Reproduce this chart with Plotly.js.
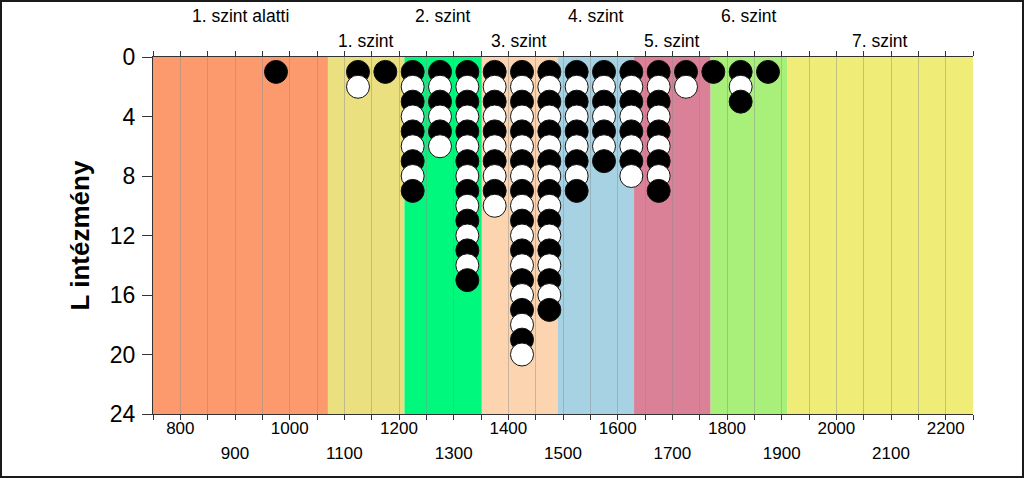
<!DOCTYPE html>
<html>
<head>
<meta charset="utf-8">
<script src="https://cdn.plot.ly/plotly-3.0.1.min.js"></script>
<style>
  html, body { margin: 0; padding: 0; background: #fff; }
  #frame { position: absolute; left: 0; top: 0; width: 1024px; height: 478px; box-sizing: border-box; border: 2px solid #1a1a1a; background: #fff; }
  #chart { width: 1020px; height: 474px; }
</style>
</head>
<body>
<div id="frame"><div id="chart"></div></div>
<script>
// ---- data ----
const columnX = [975, 1125, 1175, 1225, 1275, 1325, 1375, 1425, 1475, 1525, 1575, 1625, 1675, 1725, 1775, 1825, 1875];
const columnCount = [1, 2, 1, 9, 6, 15, 10, 20, 17, 9, 7, 8, 9, 2, 1, 3, 1];

const bandNames = ['1. szint alatti', '1. szint', '2. szint', '3. szint', '4. szint', '5. szint', '6. szint', '7. szint'];
const bandEdges = [750, 1070, 1210, 1350, 1490, 1630, 1770, 1910, 2250];

const xTickRow1 = [800, 1000, 1200, 1400, 1600, 1800, 2000, 2200];
const xTickRow2 = [900, 1100, 1300, 1500, 1700, 1900, 2100];
const yTicks = [0, 4, 8, 12, 16, 20, 24];
const yTitle = 'L intézmény';

// ---- styles ----
const bandColors = ['#FC9A6E', '#EBE07F', '#00F97C', '#FCD5B0', '#A6D2E3', '#DA8097', '#A8F07A', '#EFEC78'];
const dotColors = ['#000000', '#ffffff'];
const FONT = 'Liberation Sans, Arial, sans-serif';

// expand column counts into stacked dots (lower dots drawn over upper ones)
const px = [], py = [], pc = [];
columnX.forEach((x, i) => {
  for (let k = 1; k <= columnCount[i]; k++) {
    px.push(x); py.push(k); pc.push(dotColors[(k - 1) % 2]);
  }
});

const traces = [
  {
    type: 'scatter', mode: 'markers', x: px, y: py,
    marker: { size: 23, color: pc, line: { color: '#111', width: 1 } },
    hoverinfo: 'x+y', showlegend: false, cliponaxis: false
  },
  // carrier traces so the two tick-label rows (overlaying axes) are drawn
  { type: 'scatter', mode: 'markers', x: xTickRow1, y: xTickRow1.map(() => null), xaxis: 'x2', yaxis: 'y', showlegend: false, hoverinfo: 'skip' },
  { type: 'scatter', mode: 'markers', x: xTickRow2, y: xTickRow2.map(() => null), xaxis: 'x3', yaxis: 'y', showlegend: false, hoverinfo: 'skip' }
];

const shapes = [];
const annotations = [];
bandNames.forEach((name, i) => {
  shapes.push({
    type: 'rect', xref: 'x', yref: 'paper', x0: bandEdges[i], x1: bandEdges[i + 1], y0: 0, y1: 1,
    fillcolor: bandColors[i], line: { width: 0 }, layer: 'below'
  });
  annotations.push({
    xref: 'x', yref: 'paper', x: (bandEdges[i] + bandEdges[i + 1]) / 2, y: 1,
    xanchor: 'center', yanchor: 'middle', yshift: i % 2 === 0 ? 41 : 16,
    text: name, showarrow: false, font: { family: FONT, size: 17.5, color: '#000' }
  });
});

const xRange = [bandEdges[0], bandEdges[bandEdges.length - 1]];

const layout = {
  width: 1020, height: 474,
  margin: { l: 151, r: 49, t: 55, b: 62 },
  paper_bgcolor: '#fff', plot_bgcolor: 'rgba(0,0,0,0)',
  font: { family: FONT, color: '#000' },
  showlegend: false,
  xaxis: {
    range: xRange, tickmode: 'linear', tick0: 750, dtick: 50,
    ticks: 'outside', ticklen: 5, tickwidth: 1, tickcolor: '#333',
    showticklabels: false, showgrid: true, gridcolor: 'rgba(140,140,140,0.45)', gridwidth: 1,
    showline: true, linecolor: '#333', linewidth: 1, mirror: 'ticks', zeroline: false, fixedrange: true
  },
  xaxis2: {
    overlaying: 'x', anchor: 'y', side: 'bottom', range: xRange,
    tickmode: 'array', tickvals: xTickRow1, ticktext: xTickRow1.map(String),
    ticks: '', showgrid: false, showline: false, zeroline: false,
    tickfont: { family: FONT, size: 17, color: '#000' }, ticklabelstandoff: 2, fixedrange: true
  },
  xaxis3: {
    overlaying: 'x', anchor: 'y', side: 'bottom', range: xRange,
    tickmode: 'array', tickvals: xTickRow2, ticktext: xTickRow2.map(String),
    ticks: '', showgrid: false, showline: false, zeroline: false,
    tickfont: { family: FONT, size: 17, color: '#000' }, ticklabelstandoff: 27, fixedrange: true
  },
  yaxis: {
    range: [24, 0], tickmode: 'array', tickvals: yTicks, ticktext: yTicks.map(String),
    ticks: 'outside', ticklen: 10, tickwidth: 1, tickcolor: '#333',
    showgrid: false, showline: true, linecolor: '#333', linewidth: 1, zeroline: false,
    tickfont: { family: FONT, size: 23, color: '#000' }, ticklabelstandoff: 2,
    title: { text: '<b>' + yTitle + '</b>', font: { family: FONT, size: 26, color: '#000' }, standoff: 12 },
    fixedrange: true
  },
  shapes: shapes,
  annotations: annotations
};

Plotly.newPlot('chart', traces, layout, { displayModeBar: false, staticPlot: true });
</script>
</body>
</html>
